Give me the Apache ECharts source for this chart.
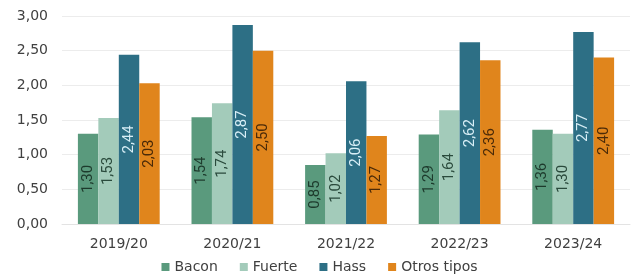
<!DOCTYPE html>
<html>
<head>
<meta charset="utf-8">
<script src="https://cdn.jsdelivr.net/npm/echarts@6/dist/echarts.min.js"></script>
<style>
  html, body { margin: 0; padding: 0; background: #fff; }
  #chart { width: 639px; height: 278px; }
</style>
</head>
<body>
<div id="chart"></div>
<script>
const campaigns = ["2019/20", "2020/21", "2021/22", "2022/23", "2023/24"];
const bacon = [1.30, 1.54, 0.85, 1.29, 1.36];
const fuerte = [1.53, 1.74, 1.02, 1.64, 1.30];
const hass = [2.44, 2.87, 2.06, 2.62, 2.77];
const otros = [2.03, 2.50, 1.27, 2.36, 2.40];

// coma decimal
function fmt(v) {
  return v.toFixed(2).replace(".", ",");
}

const axisFont = "'DejaVu Sans', Lato, sans-serif";
const labelFont = "'Liberation Sans Narrow', 'Roboto', sans-serif";

function serie(name, data, color, labelColor) {
  return {
    name: name,
    type: "bar",
    data: data,
    barGap: "0%",
    barCategoryGap: "28%",
    itemStyle: { color: color },
    label: {
      show: true,
      position: "inside",
      rotate: 90,
      color: labelColor,
      fontFamily: labelFont,
      fontSize: 15,
      formatter: (p) => fmt(p.value),
    },
  };
}

const chart = echarts.init(document.getElementById("chart"));
chart.setOption({
  animation: false,
  grid: { left: 62, right: 9, top: 16, bottom: 54 },
  legend: {
    bottom: -1,
    left: "center",
    itemWidth: 8,
    itemHeight: 8,
    itemGap: 22,
    icon: "rect",
    textStyle: { color: "#404040", fontFamily: axisFont, fontSize: 14 },
  },
  xAxis: {
    type: "category",
    data: campaigns,
    axisTick: { show: false },
    axisLine: { lineStyle: { color: "#e3e3e3" } },
    axisLabel: { color: "#404040", fontFamily: axisFont, fontSize: 14, margin: 13 },
  },
  yAxis: {
    type: "value",
    min: 0,
    max: 3,
    interval: 0.5,
    axisLabel: {
      color: "#404040",
      fontFamily: axisFont,
      fontSize: 14,
      margin: 14,
      formatter: (v) => fmt(v),
    },
    splitLine: { lineStyle: { color: "#ececec" } },
  },
  series: [
    serie("Bacon", bacon, "#5a9a7d", "#1d3a2c"),
    serie("Fuerte", fuerte, "#a3cbba", "#2a4a3c"),
    serie("Hass", hass, "#2d6f85", "#d8eef6"),
    serie("Otros tipos", otros, "#e0851c", "#4a2a08"),
  ],
});
</script>
</body>
</html>
